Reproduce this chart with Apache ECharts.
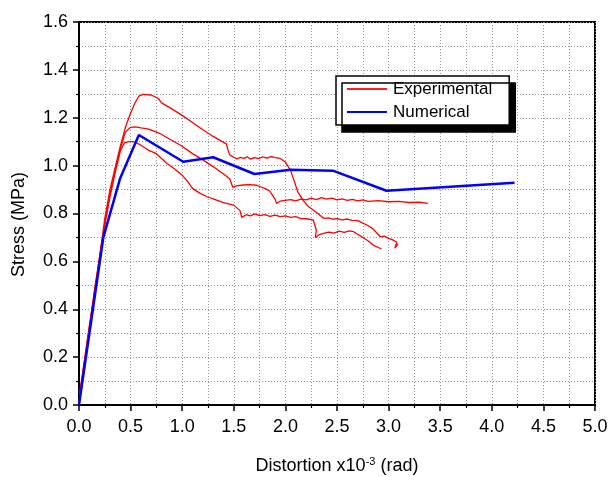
<!DOCTYPE html>
<html>
<head>
<meta charset="utf-8">
<script src="https://cdn.jsdelivr.net/npm/echarts@6/dist/echarts.min.js"></script>
<style>html,body{margin:0;padding:0;background:#fff}#c{width:611px;height:477px}</style>
</head>
<body>
<div id="c"></div>
<script>
var xTicks = [0, 5, 0.5];
var yTicks = [0, 1.6, 0.2];

var expA = [[0,0],[0.01,0.06],[0.05,0.18],[0.1,0.33],[0.15,0.48],[0.2,0.62],[0.25,0.78],[0.3,0.9],[0.35,0.99],[0.4,1.08],[0.45,1.16],[0.5,1.22],[0.54,1.26],[0.58,1.29],[0.62,1.298],[0.7,1.295],[0.77,1.28],[0.8,1.262],[0.9,1.237],[1.0,1.21],[1.1,1.18],[1.2,1.15],[1.3,1.122],[1.43,1.09],[1.44,1.07],[1.46,1.045],[1.5,1.035],[1.53,1.028],[1.56,1.034],[1.6,1.03],[1.63,1.037],[1.66,1.027],[1.7,1.033],[1.74,1.029],[1.78,1.037],[1.82,1.031],[1.86,1.038],[1.9,1.033],[1.95,1.03],[2.0,1.015],[2.05,0.98],[2.09,0.93],[2.12,0.89],[2.17,0.856],[2.22,0.83],[2.27,0.815],[2.33,0.795],[2.37,0.78],[2.42,0.782],[2.46,0.776],[2.5,0.779],[2.55,0.773],[2.6,0.777],[2.65,0.771],[2.7,0.77],[2.75,0.76],[2.79,0.752],[2.85,0.735],[2.92,0.703],[2.96,0.705],[3.0,0.696],[3.04,0.69],[3.08,0.68],[3.06,0.655],[3.09,0.672]];

var expB = [[0,0],[0.01,0.05],[0.05,0.17],[0.1,0.32],[0.15,0.47],[0.2,0.62],[0.25,0.76],[0.3,0.88],[0.35,0.98],[0.4,1.07],[0.45,1.14],[0.5,1.16],[0.55,1.162],[0.6,1.158],[0.65,1.155],[0.69,1.15],[0.78,1.135],[0.88,1.11],[0.98,1.086],[1.1,1.05],[1.2,1.024],[1.3,0.996],[1.4,0.965],[1.46,0.945],[1.49,0.91],[1.52,0.915],[1.59,0.919],[1.65,0.921],[1.72,0.918],[1.8,0.905],[1.85,0.893],[1.9,0.86],[1.915,0.842],[1.95,0.852],[2.0,0.855],[2.05,0.858],[2.1,0.853],[2.15,0.86],[2.2,0.857],[2.25,0.864],[2.3,0.858],[2.35,0.866],[2.4,0.86],[2.45,0.864],[2.5,0.857],[2.55,0.861],[2.6,0.855],[2.65,0.859],[2.7,0.853],[2.75,0.857],[2.8,0.851],[2.9,0.854],[3.0,0.849],[3.1,0.851],[3.2,0.846],[3.3,0.847],[3.38,0.842]];

var expC = [[0,0],[0.01,0.05],[0.05,0.17],[0.1,0.32],[0.15,0.47],[0.2,0.61],[0.25,0.75],[0.3,0.87],[0.35,0.97],[0.4,1.06],[0.44,1.095],[0.48,1.1],[0.52,1.1],[0.56,1.095],[0.62,1.08],[0.67,1.065],[0.75,1.05],[0.85,1.01],[0.93,0.985],[1.0,0.96],[1.05,0.935],[1.1,0.905],[1.17,0.885],[1.24,0.87],[1.32,0.858],[1.4,0.845],[1.5,0.835],[1.56,0.812],[1.577,0.784],[1.62,0.795],[1.66,0.79],[1.7,0.798],[1.75,0.791],[1.8,0.795],[1.85,0.788],[1.9,0.793],[1.95,0.787],[2.0,0.79],[2.05,0.784],[2.1,0.787],[2.15,0.779],[2.2,0.778],[2.27,0.773],[2.3,0.73],[2.29,0.70],[2.33,0.712],[2.37,0.717],[2.42,0.722],[2.47,0.718],[2.52,0.726],[2.57,0.721],[2.62,0.727],[2.66,0.724],[2.7,0.713],[2.74,0.703],[2.8,0.686],[2.85,0.668],[2.9,0.658],[2.93,0.652]];

var numerical = [[0,0],[0.236,0.70],[0.397,0.945],[0.58,1.128],[1.01,1.016],[1.30,1.035],[1.70,0.965],[2.05,0.983],[2.46,0.979],[2.98,0.895],[4.22,0.928]];

var FONT = '"Liberation Sans", Arial, sans-serif';
var gridLine = {show: true, lineStyle: {color: '#999', width: 1, type: [1, 2]}};

var chart = echarts.init(document.getElementById('c'), null, {renderer: 'canvas'});
chart.setOption({
  animation: false,
  backgroundColor: '#fff',
  grid: {left: 79, right: 16, top: 22, bottom: 72, containLabel: false, outerBoundsMode: 'none', show: true, borderColor: '#000', borderWidth: 2, backgroundColor: 'transparent'},
  legend: {
    data: [
      {name: 'Experimental', itemStyle: {color: '#ff2020'}},
      {name: 'Numerical', itemStyle: {color: '#0000ff'}}
    ],
    orient: 'vertical', left: 336, top: 76,
    icon: 'rect', itemWidth: 40, itemHeight: 2, itemGap: 5,
    padding: [4, 17, 4, 11],
    backgroundColor: '#fff', borderColor: '#000', borderWidth: 1.5, borderRadius: 0,
    shadowColor: '#000', shadowBlur: 0, shadowOffsetX: 6, shadowOffsetY: 7,
    textStyle: {fontFamily: FONT, fontSize: 17, color: '#000', lineHeight: 18, padding: [0, 0, 0, 1]}
  },
  xAxis: {
    type: 'value', min: xTicks[0], max: xTicks[1], interval: xTicks[2],
    name: 'Distortion x10{sup|-3} (rad)', nameLocation: 'middle', nameGap: 51,
    nameTextStyle: {fontFamily: FONT, fontSize: 18, color: '#000',
      rich: {sup: {fontFamily: FONT, fontSize: 11, color: '#000', verticalAlign: 'top', padding: [0, 0, 10, 0]}}},
    axisLine: {show: true, onZero: false, lineStyle: {color: '#000', width: 2}},
    axisTick: {show: true, inside: false, length: 6, lineStyle: {color: '#000', width: 1.5}},
    minorTick: {show: true, splitNumber: 2, length: 3, lineStyle: {color: '#000', width: 1.2}},
    axisLabel: {fontFamily: FONT, fontSize: 18, color: '#000', margin: 13, formatter: function(v){return v.toFixed(1);}},
    splitLine: gridLine,
    minorSplitLine: gridLine
  },
  yAxis: {
    type: 'value', min: yTicks[0], max: yTicks[1], interval: yTicks[2],
    name: 'Stress (MPa)', nameLocation: 'middle', nameGap: 51, nameRotate: 90,
    nameTextStyle: {fontFamily: FONT, fontSize: 18, color: '#000', padding: [0, 22, 0, 0]},
    axisLine: {show: true, onZero: false, lineStyle: {color: '#000', width: 2}},
    axisTick: {show: true, inside: false, length: 6, lineStyle: {color: '#000', width: 1.5}},
    minorTick: {show: true, splitNumber: 2, length: 3, lineStyle: {color: '#000', width: 1.2}},
    axisLabel: {fontFamily: FONT, fontSize: 18, color: '#000', margin: 11, formatter: function(v){return v.toFixed(1);}},
    splitLine: gridLine,
    minorSplitLine: gridLine
  },
  series: [
    {name: 'Experimental', type: 'line', data: expA, showSymbol: false, symbol: 'none', lineStyle: {color: '#ff0000', width: 1.3}, itemStyle: {color: '#ff0000'}, z: 3},
    {name: 'Experimental', type: 'line', data: expB, showSymbol: false, symbol: 'none', lineStyle: {color: '#ff0000', width: 1.3}, itemStyle: {color: '#ff0000'}, z: 3},
    {name: 'Experimental', type: 'line', data: expC, showSymbol: false, symbol: 'none', lineStyle: {color: '#ff0000', width: 1.3}, itemStyle: {color: '#ff0000'}, z: 3},
    {name: 'Numerical', type: 'line', data: numerical, showSymbol: false, symbol: 'none', lineStyle: {color: '#0000ff', width: 2.5}, itemStyle: {color: '#0000ff'}, z: 4}
  ]
});
</script>
</body>
</html>
